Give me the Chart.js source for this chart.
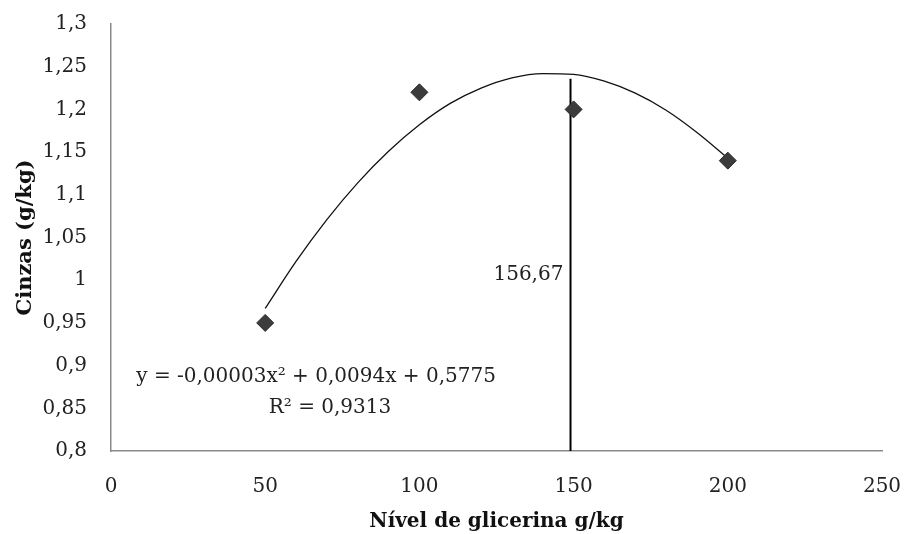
<!DOCTYPE html>
<html>
<head>
<meta charset="utf-8">
<script src="https://cdn.jsdelivr.net/npm/chart.js@4.4.1/dist/chart.umd.min.js"></script>
<style>
  html, body { margin: 0; padding: 0; background: #fff; }
  #wrap { width: 905px; height: 534px; }
</style>
</head>
<body>
<div id="wrap"><canvas id="chart"></canvas></div>
<script>
// Observed values (Nível de glicerina g/kg vs Cinzas g/kg)
const levels = [50, 100, 150, 200];
const ashValues = [0.95, 1.22, 1.2, 1.14];

// Polynomial trendline
const trendX = [50, 60, 70, 80, 90, 100, 110, 120, 130, 140, 150, 160, 170, 180, 190, 200];
const trendY = [0.967, 1.022, 1.071, 1.114, 1.151, 1.182, 1.207, 1.225, 1.237, 1.242, 1.241, 1.233, 1.219, 1.199, 1.173, 1.143];

// Vertical marker line
const markerX = [149, 149];
const markerY = [0.8, 1.236];

const xTicks = [0, 50, 100, 150, 200, 250];
const yTicks = [0.8, 0.85, 0.9, 0.95, 1, 1.05, 1.1, 1.15, 1.2, 1.25, 1.3];

const equationText = 'y = -0,00003x² + 0,0094x + 0,5775';
const r2Text = 'R² = 0,9313';
const markerLabel = '156,67';

const serif = "'DejaVu Serif', 'Liberation Serif', serif";
const axisColor = '#8a8a8a';

const fmt = v => String(v).replace('.', ',');

const toPoints = (xs, ys) => xs.map((x, i) => ({ x: x, y: ys[i] }));

// Draws the equation, R² and the marker value as plain text
const annotations = {
    id: 'annotations',
    afterDatasetsDraw(chart) {
        const ctx = chart.ctx;
        const xs = chart.scales.x, ys = chart.scales.y;
        ctx.save();
        ctx.fillStyle = '#222';
        ctx.font = '20px ' + serif;
        ctx.textBaseline = 'middle';
        ctx.textAlign = 'center';
        ctx.fillText(equationText, xs.getPixelForValue(66.5), ys.getPixelForValue(0.887));
        ctx.fillText(r2Text, xs.getPixelForValue(71), ys.getPixelForValue(0.851));
        ctx.textAlign = 'right';
        ctx.fillText(markerLabel, xs.getPixelForValue(146.7), ys.getPixelForValue(1.006));
        ctx.restore();
    }
};

new Chart(document.getElementById('chart').getContext('2d'), {
    type: 'scatter',
    data: {
        datasets: [
            {
                label: 'Cinzas',
                data: toPoints(levels, ashValues),
                pointStyle: 'rectRot',
                pointRadius: 8.5,
                backgroundColor: '#3c3c3c',
                borderColor: '#2a2a2a',
                borderWidth: 1,
                order: 0
            },
            {
                label: 'Tendência',
                data: toPoints(trendX, trendY),
                showLine: true,
                pointRadius: 0,
                borderColor: '#111',
                borderWidth: 1.3,
                cubicInterpolationMode: 'monotone',
                order: 1
            },
            {
                label: 'Marcador',
                data: toPoints(markerX, markerY),
                showLine: true,
                pointRadius: 0,
                borderColor: '#000',
                borderWidth: 2,
                order: 2
            }
        ]
    },
    options: {
        responsive: true,
        maintainAspectRatio: false,
        animation: false,
        layout: { padding: { left: 0, right: 23, top: 24, bottom: 0 } },
        plugins: {
            legend: { display: false },
            tooltip: { enabled: false }
        },
        scales: {
            x: {
                type: 'linear',
                min: 0,
                max: 250,
                afterBuildTicks: axis => { axis.ticks = xTicks.map(v => ({ value: v })); },
                afterFit: axis => {
                    axis.height = 83;
                    axis.paddingLeft = 0;
                    axis.paddingRight = 0;
                },
                grid: { display: false, drawTicks: false },
                border: { display: true, color: axisColor, width: 1.5 },
                ticks: {
                    padding: 24,
                    color: '#222',
                    font: { family: serif, size: 20 },
                    callback: v => fmt(v)
                },
                title: {
                    display: true,
                    text: 'Nível de glicerina g/kg',
                    color: '#111',
                    font: { family: serif, size: 20, weight: 'bold' },
                    padding: { top: 6, bottom: 0 }
                }
            },
            y: {
                type: 'linear',
                min: 0.8,
                max: 1.3,
                afterBuildTicks: axis => { axis.ticks = yTicks.map(v => ({ value: v })); },
                afterFit: axis => {
                    axis.width = 111;
                    axis.paddingTop = 0;
                    axis.paddingBottom = 0;
                },
                grid: { display: false, drawTicks: false },
                border: { display: true, color: axisColor, width: 1.5 },
                ticks: {
                    padding: 24,
                    color: '#222',
                    font: { family: serif, size: 20 },
                    callback: v => fmt(v)
                },
                title: {
                    display: true,
                    text: 'Cinzas (g/kg)',
                    color: '#111',
                    font: { family: serif, size: 21, weight: 'bold' },
                    padding: { top: 13, bottom: 0 }
                }
            }
        }
    },
    plugins: [annotations]
});
</script>
</body>
</html>
